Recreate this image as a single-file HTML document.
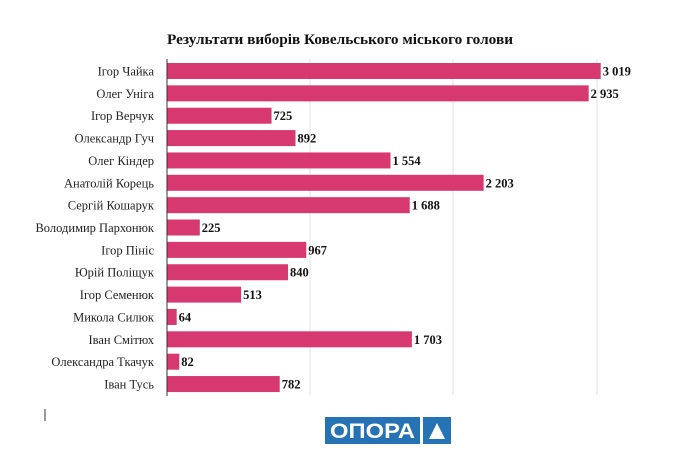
<!DOCTYPE html>
<html><head><meta charset="utf-8"><style>
html,body{margin:0;padding:0;background:#fff;}
svg{display:block;}
</style></head><body>
<svg width="700" height="471" viewBox="0 0 700 471" xmlns="http://www.w3.org/2000/svg" font-family="Liberation Serif, serif">
<text x="167" y="44" font-size="14.5" font-weight="bold" fill="#111" textLength="346" lengthAdjust="spacingAndGlyphs">Результати виборів Ковельського міського голови</text>
<g stroke="#e2e2e2" stroke-width="1">
<line x1="310" y1="59" x2="310" y2="395"/>
<line x1="453" y1="59" x2="453" y2="395"/>
<line x1="597" y1="59" x2="597" y2="395"/>
</g>
<line x1="167" y1="59" x2="167" y2="396" stroke="#333" stroke-width="1"/>
<g id="bars" fill="#d6386f"></g>
<g id="labels" font-size="12.5" fill="#222" text-anchor="end"></g>
<g id="vals" font-size="12.5" font-weight="bold" fill="#111"></g>
<line x1="45" y1="409" x2="45" y2="421" stroke="#333" stroke-width="1"/>
<rect x="325" y="417" width="95" height="27" fill="#2572b4"/>
<text x="372.5" y="438" font-family="Liberation Sans, sans-serif" font-size="21" font-weight="bold" fill="#fff" text-anchor="middle" textLength="85" lengthAdjust="spacingAndGlyphs">ОПОРА</text>
<rect x="423" y="417" width="28" height="27" fill="#2572b4"/>
<polygon points="437,423 445,439 429,439" fill="#fff"/>
<script>
var d=[["Ігор Чайка",3019],["Олег Уніга",2935],["Ігор Верчук",725],["Олександр Гуч",892],["Олег Кіндер",1554],["Анатолій Корець",2203],["Сергій Кошарук",1688],["Володимир Пархонюк",225],["Ігор Пініс",967],["Юрій Поліщук",840],["Ігор Семенюк",513],["Микола Силюк",64],["Іван Смітюх",1703],["Олександра Ткачук",82],["Іван Тусь",782]];
var ns="http://www.w3.org/2000/svg";
function el(t,a,p,txt){var e=document.createElementNS(ns,t);for(var k in a)e.setAttribute(k,a[k]);if(txt)e.textContent=txt;document.getElementById(p).appendChild(e);}
d.forEach(function(r,i){var cy=71+i*22.36;var w=r[1]*0.1435;
el("rect",{x:167.5,y:cy-8,width:w,height:16},"bars");
el("text",{x:154,y:cy+4.5},"labels",r[0]);
el("text",{x:167.5+w+2,y:cy+4.5},"vals",r[1].toLocaleString("en").replace(","," "));});
</script>
</svg>
</body></html>
